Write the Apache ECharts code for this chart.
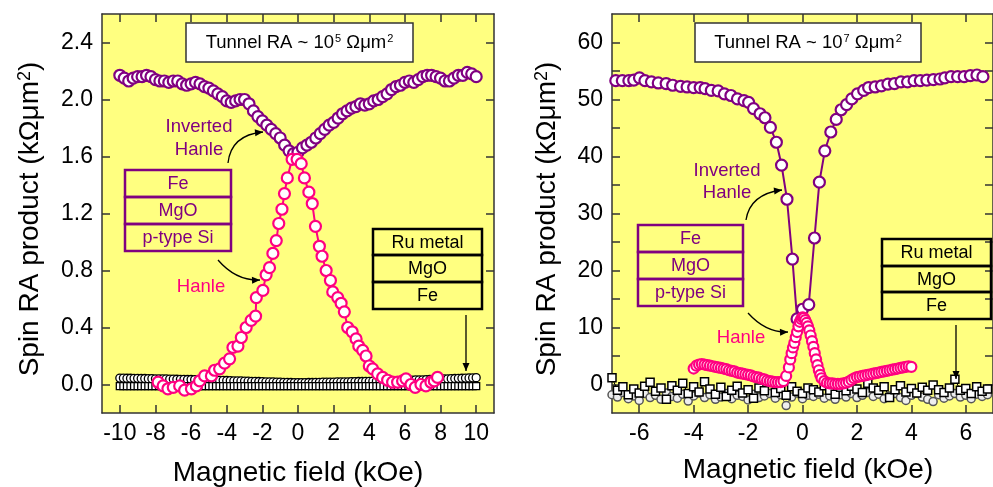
<!DOCTYPE html>
<html><head><meta charset="utf-8">
<script src="https://cdn.jsdelivr.net/npm/echarts@6/dist/echarts.min.js"></script>
<style>html,body{margin:0;padding:0;background:#fff}#c{width:993px;height:487px}</style>
</head><body><div id="c"></div>
<script>
// ---------- Data ----------
// Left panel: tunnel RA ~ 1e5
const lInvX = [-10,-9.75,-9.5,-9.25,-9,-8.75,-8.5,-8.25,-8,-7.75,-7.5,-7.25,-7,-6.75,-6.5,-6.25,-6,-5.75,-5.5,-5.25,-5,-4.75,-4.5,-4.25,-4,-3.75,-3.5,-3.25,-3,-2.75,-2.5,-2.25,-2,-1.75,-1.5,-1.25,-1,-0.75,-0.5,-0.25,0,0.25,0.5,0.75,1,1.25,1.5,1.75,2,2.25,2.5,2.75,3,3.25,3.5,3.75,4,4.25,4.5,4.75,5,5.25,5.5,5.75,6,6.25,6.5,6.75,7,7.25,7.5,7.75,8,8.25,8.5,8.75,9,9.25,9.5,9.75,10];
const lInvY = [2.17,2.15,2.13,2.15,2.16,2.16,2.17,2.16,2.14,2.13,2.13,2.12,2.13,2.13,2.11,2.10,2.11,2.12,2.11,2.09,2.08,2.06,2.04,2.02,1.99,1.98,1.99,2.00,2.00,1.97,1.92,1.88,1.85,1.82,1.79,1.76,1.73,1.68,1.64,1.62,1.63,1.66,1.68,1.70,1.73,1.76,1.79,1.82,1.84,1.87,1.90,1.92,1.94,1.95,1.97,1.96,1.97,1.99,2.00,2.02,2.04,2.07,2.09,2.10,2.12,2.13,2.12,2.14,2.16,2.17,2.17,2.16,2.15,2.13,2.13,2.15,2.17,2.17,2.19,2.18,2.16];

const lHanX = [-7.85,-7.57,-7.3,-7.0,-6.64,-6.36,-5.98,-5.7,-5.52,-5.24,-4.86,-4.68,-4.4,-4.12,-3.84,-3.65,-3.37,-3.18,-2.91,-2.63,-2.38,-2.34,-1.97,-1.79,-1.6,-1.41,-1.22,-1.08,-0.9,-0.76,-0.6,-0.33,-0.05,0.18,0.36,0.61,0.8,0.98,1.2,1.35,1.58,1.82,1.95,2.23,2.42,2.6,2.79,3.04,3.26,3.41,3.63,3.82,4.0,4.19,4.47,4.75,5.03,5.31,5.59,5.87,6.06,6.34,6.58,6.9,7.18,7.46,7.65,7.83];
const lHanY = [0.016,-0.01,-0.03,-0.02,-0.01,-0.04,-0.03,-0.01,0.025,0.06,0.06,0.10,0.11,0.15,0.18,0.26,0.27,0.33,0.40,0.45,0.48,0.61,0.66,0.77,0.82,0.92,1.01,1.13,1.23,1.34,1.45,1.58,1.58,1.55,1.45,1.35,1.27,1.11,0.97,0.90,0.80,0.73,0.65,0.61,0.57,0.51,0.40,0.37,0.32,0.27,0.24,0.20,0.13,0.11,0.075,0.05,0.03,0.016,0.016,0.025,0.04,0.0,-0.02,0.0,-0.01,0.016,0.025,0.05];

const lRefX = [-10,-9.8,-9.6,-9.4,-9.2,-9,-8.8,-8.6,-8.4,-8.2,-8,-7.8,-7.6,-7.4,-7.2,-7,-6.8,-6.6,-6.4,-6.2,-6,-5.8,-5.6,-5.4,-5.2,-5,-4.8,-4.6,-4.4,-4.2,-4,-3.8,-3.6,-3.4,-3.2,-3,-2.8,-2.6,-2.4,-2.2,-2,-1.8,-1.6,-1.4,-1.2,-1,-0.8,-0.6,-0.4,-0.2,0,0.2,0.4,0.6,0.8,1,1.2,1.4,1.6,1.8,2,2.2,2.4,2.6,2.8,3,3.2,3.4,3.6,3.8,4,4.2,4.4,4.6,4.8,5,5.2,5.4,5.6,5.8,6,6.2,6.4,6.6,6.8,7,7.2,7.4,7.6,7.8,8,8.2,8.4,8.6,8.8,9,9.2,9.4,9.6,9.8,10];
const lRefCircY = [0.045,0.045,0.044,0.044,0.043,0.043,0.042,0.042,0.041,0.041,0.040,0.040,0.039,0.039,0.038,0.038,0.037,0.036,0.036,0.035,0.035,0.034,0.033,0.033,0.032,0.031,0.031,0.030,0.029,0.029,0.028,0.027,0.026,0.026,0.025,0.024,0.023,0.022,0.022,0.021,0.020,0.019,0.018,0.018,0.017,0.016,0.015,0.015,0.014,0.013,0.013,0.013,0.013,0.014,0.014,0.015,0.015,0.016,0.016,0.017,0.017,0.018,0.018,0.019,0.019,0.020,0.020,0.021,0.021,0.022,0.022,0.023,0.023,0.024,0.025,0.025,0.026,0.027,0.027,0.028,0.029,0.030,0.031,0.032,0.032,0.033,0.034,0.035,0.036,0.037,0.038,0.039,0.040,0.041,0.042,0.043,0.044,0.045,0.046,0.047,0.048];
const lRefSqY = [-0.012,-0.012,-0.011,-0.012,-0.012,-0.011,-0.012,-0.012,-0.011,-0.012,-0.012,-0.011,-0.012,-0.012,-0.011,-0.012,-0.012,-0.011,-0.012,-0.012,-0.011,-0.012,-0.012,-0.011,-0.012,-0.012,-0.011,-0.012,-0.012,-0.011,-0.012,-0.012,-0.011,-0.012,-0.012,-0.011,-0.012,-0.012,-0.011,-0.012,-0.012,-0.011,-0.012,-0.012,-0.011,-0.012,-0.012,-0.011,-0.012,-0.012,-0.011,-0.012,-0.012,-0.011,-0.012,-0.012,-0.011,-0.012,-0.012,-0.011,-0.012,-0.012,-0.011,-0.012,-0.012,-0.011,-0.012,-0.012,-0.011,-0.012,-0.012,-0.011,-0.012,-0.012,-0.011,-0.012,-0.012,-0.011,-0.012,-0.012,-0.011,-0.012,-0.012,-0.011,-0.012,-0.012,-0.011,-0.012,-0.012,-0.011,-0.012,-0.012,-0.011,-0.012,-0.012,-0.011,-0.012,-0.012,-0.011,-0.012,-0.012];

// Right panel: tunnel RA ~ 1e7
const rInvX = [-6.86,-6.62,-6.38,-6.2,-5.99,-5.79,-5.55,-5.3,-5.01,-4.77,-4.48,-4.24,-4.0,-3.76,-3.58,-3.35,-3.1,-2.87,-2.63,-2.39,-2.15,-1.98,-1.8,-1.56,-1.38,-1.18,-0.96,-0.77,-0.57,-0.37,-0.2,0.0,0.23,0.44,0.62,0.82,1.04,1.24,1.42,1.62,1.81,2.02,2.25,2.43,2.67,2.9,3.14,3.38,3.62,3.86,4.1,4.33,4.57,4.81,5.05,5.23,5.46,5.7,5.94,6.17,6.41,6.63];
const rInvY = [53.3,53.3,53.3,53.4,53.8,53.3,53.1,52.9,52.8,52.5,52.3,52.2,52.1,52.1,51.9,51.6,51.5,51.0,50.7,50.1,49.8,49.5,48.4,47.5,46.8,45.1,42.5,38.5,32.5,22.0,11.5,13.2,14.0,25.7,35.5,41.0,44.3,46.5,48.2,49.1,50.1,51.0,51.6,52.1,52.2,52.4,52.7,52.8,53.1,53.1,53.3,53.3,53.4,53.5,53.6,53.8,54.0,54.0,54.0,54.2,54.3,54.0];

const rHanX = [-4.0,-3.9,-3.8,-3.7,-3.6,-3.5,-3.4,-3.3,-3.2,-3.1,-3.0,-2.9,-2.8,-2.7,-2.6,-2.5,-2.4,-2.3,-2.2,-2.1,-2.0,-1.9,-1.8,-1.7,-1.6,-1.5,-1.4,-1.3,-1.2,-1.1,-1.0,-0.9,-0.8,-0.7,-0.6,-0.5,-0.45,-0.4,-0.35,-0.3,-0.25,-0.2,-0.15,-0.1,-0.05,0,0.05,0.1,0.15,0.2,0.25,0.3,0.35,0.4,0.45,0.5,0.55,0.6,0.65,0.7,0.8,0.9,1.0,1.1,1.2,1.3,1.4,1.5,1.6,1.7,1.8,1.9,2.0,2.1,2.2,2.3,2.4,2.5,2.6,2.7,2.8,2.9,3.0,3.1,3.2,3.3,3.4,3.5,3.6,3.7,3.8,3.9,4.0];
const rHanY = [2.8,3.3,3.5,3.6,3.5,3.4,3.3,3.2,3.1,3.0,2.9,2.8,2.7,2.5,2.4,2.3,2.1,2.0,1.9,1.8,1.7,1.6,1.4,1.3,1.2,1.0,0.9,0.7,0.6,0.5,0.4,0.4,0.4,0.6,1.5,3.0,4.4,5.5,6.5,7.3,8.3,9.2,10.2,11.0,11.5,11.8,11.7,11.3,10.8,10.2,9.5,8.6,7.6,6.6,5.5,4.4,3.4,2.5,1.7,1.1,0.6,0.3,0.2,0.2,0.1,0.1,0.1,0.2,0.3,0.5,0.8,1.1,1.3,1.4,1.5,1.6,1.7,1.8,1.9,2.0,2.1,2.2,2.3,2.4,2.5,2.6,2.7,2.8,2.9,3.0,3.1,3.2,3.1];

const rRefX = [-7.0,-6.8,-6.6,-6.4,-6.2,-6.0,-5.8,-5.6,-5.4,-5.2,-5.0,-4.8,-4.6,-4.4,-4.2,-4.0,-3.8,-3.6,-3.4,-3.2,-3.0,-2.8,-2.6,-2.4,-2.2,-2.0,-1.8,-1.6,-1.4,-1.2,-1.0,-0.8,-0.6,-0.4,-0.2,0.0,0.2,0.4,0.6,0.8,1.0,1.2,1.4,1.6,1.8,2.0,2.2,2.4,2.6,2.8,3.0,3.2,3.4,3.6,3.8,4.0,4.2,4.4,4.6,4.8,5.0,5.2,5.4,5.6,5.8,6.0,6.2,6.4,6.6,6.8];
const rRefSqY = [1.2,-1.0,-0.4,-1.8,-0.8,-1.5,-0.3,0.4,-1.2,-0.6,-2.6,-0.2,-1.0,0.2,-1.6,-0.4,-1.3,0.5,-0.8,-1.7,-0.5,-2.1,-1.0,-0.3,-1.5,-0.9,-2.4,-0.6,-1.1,0.4,-1.4,-0.7,-1.9,-0.4,-1.2,-1.6,-0.6,-0.9,-1.3,-0.2,-1.0,-1.7,-0.5,-1.1,-0.3,-0.8,-1.4,0.2,-0.6,-1.0,-0.4,-2.3,-0.9,-0.2,-1.3,-0.7,-1.5,-0.5,-1.0,-0.1,-0.9,-1.4,-0.6,0.9,-1.0,-0.7,-1.6,-0.4,-1.2,-0.8];
const rRefCircY = [-1.8,-2.2,-1.4,-2.5,-2.0,-2.8,-1.6,-2.3,-1.9,-2.6,-1.5,-2.1,-2.4,-1.7,-2.9,-2.0,-1.5,-2.3,-1.8,-2.6,-2.2,-1.6,-2.5,-1.9,-2.1,-2.7,-1.7,-2.3,-2.0,-1.6,-2.4,-1.8,-3.7,-2.2,-1.5,-2.5,-1.9,-2.1,-1.7,-2.4,-2.0,-2.6,-1.8,-2.2,-1.6,-2.3,-1.9,-1.4,-2.1,-1.7,-2.5,-2.0,-1.6,-2.3,-2.8,-1.9,-1.5,-2.2,-2.6,-3.0,-1.8,-2.4,-2.0,-1.6,-2.2,-1.9,-2.5,-1.7,-2.1,-1.8];

// Tick labels
const lXTicks = [-10,-8,-6,-4,-2,0,2,4,6,8,10];
const lYTicks = [0,0.4,0.8,1.2,1.6,2.0,2.4];
const rXTicks = [-6,-4,-2,0,2,4,6];
const rYLabels = [0,10,20,30,40,50,60];
const rYTicks = [0,5,10,15,20,25,30,35,40,45,50,55,60];

// ---------- Styling ----------
const FONT = 'Liberation Sans, Arial, Helvetica, sans-serif';
const PURPLE = '#800080', PINK = '#FF0080', YELLOW = '#FFFF80', AX = '#333';
const zip = (xs, ys) => xs.map((x, i) => [x, ys[i]]);

function xAxes(gi, min, max, ticks) {
  const base = {
    gridIndex: gi, type: 'value', min, max, splitLine: {show: false},
    axisLine: {show: true, onZero: false, lineStyle: {color: AX, width: 1.5}},
    axisTick: {show: true, inside: true, length: 8, customValues: ticks, lineStyle: {color: AX, width: 1.5}}
  };
  return [
    Object.assign({}, base, {position: 'bottom',
      axisLabel: {customValues: ticks, fontSize: 23, fontFamily: FONT, color: '#000', margin: 9}}),
    Object.assign({}, base, {position: 'top', axisLabel: {show: false}})
  ];
}
function yAxes(gi, min, max, ticks, labels, fmt) {
  const base = {
    gridIndex: gi, type: 'value', min, max, splitLine: {show: false},
    axisLine: {show: true, onZero: false, lineStyle: {color: AX, width: 1.5}},
    axisTick: {show: true, inside: true, length: 8, customValues: ticks, lineStyle: {color: AX, width: 1.5}}
  };
  return [
    Object.assign({}, base, {position: 'left',
      axisLabel: {customValues: labels, fontSize: 23, fontFamily: FONT, color: '#000', margin: 9, formatter: fmt}}),
    Object.assign({}, base, {position: 'right', axisLabel: {show: false}})
  ];
}
function openSeries(xi, yi, data, color, size, bw, line, z) {
  return {
    type: 'line', xAxisIndex: xi, yAxisIndex: yi, data, symbol: 'circle', symbolSize: size,
    showSymbol: true, z: z || 2,
    itemStyle: {color: '#fff', borderColor: color, borderWidth: bw},
    lineStyle: line ? {color: color, width: line} : {width: 0, opacity: 0},
    emphasis: {disabled: true}
  };
}

// ---------- Annotations ----------
const g = [];
function txt(x, y, text, color, size, extra) {
  g.push(Object.assign({type: 'text', z: 100, x, y, style: Object.assign({text, fill: color, fontSize: size, fontFamily: FONT, align: 'center', verticalAlign: 'middle'}, extra || {})}));
}
function rect(x, y, w, h, stroke, lw, fill) {
  g.push({type: 'rect', z: 99, shape: {x, y, width: w, height: h}, style: {fill: fill || 'none', stroke, lineWidth: lw}});
}
function stack(x, ys, w, labels, color, lw) {
  for (let i = 0; i < labels.length; i++) {
    rect(x, ys[i], w, ys[i + 1] - ys[i], color, lw);
    txt(x + w / 2, (ys[i] + ys[i + 1]) / 2 + 1, labels[i], color, 18);
  }
}
function arrow(x1, y1, cx, cy, x2, y2) {
  g.push({type: 'bezierCurve', z: 100, shape: {x1, y1, x2, y2, cpx1: cx, cpy1: cy}, style: {stroke: '#000', lineWidth: 1.3, fill: null}});
  const dx = x2 - cx, dy = y2 - cy, L = Math.hypot(dx, dy), ux = dx / L, uy = dy / L;
  const hl = 8, hw = 3.5;
  const bx = x2 - ux * hl, by = y2 - uy * hl;
  g.push({type: 'polygon', z: 100, shape: {points: [[x2, y2], [bx - uy * hw, by + ux * hw], [bx + uy * hw, by - ux * hw]]}, style: {fill: '#000'}});
}
const titleRich = {sup: {fontSize: 11, fontFamily: FONT, fill: '#000', verticalAlign: 'top', padding: [0, 0, 0, 1]}};
// left panel
rect(186, 23, 227, 39, AX, 1.5, '#fff');
txt(299.5, 43, 'Tunnel RA ~ 10{sup|5} Ωμm{sup|2}', '#000', 18.5, {rich: titleRich});
stack(125, [170, 197, 224, 251], 106, ['Fe', 'MgO', 'p-type Si'], PURPLE, 2.5);
stack(373, [229, 255, 282, 309], 109, ['Ru metal', 'MgO', 'Fe'], '#000', 2.5);
txt(199, 127, 'Inverted', PURPLE, 18.5);
txt(199, 150, 'Hanle', PURPLE, 18.5);
txt(201, 287, 'Hanle', PINK, 18.5);
arrow(228, 163, 231, 135, 263, 132);
arrow(218, 260, 236, 281, 260, 280);
arrow(466, 315, 466, 340, 466, 371);
// right panel
rect(695, 23, 226, 39, AX, 1.5, '#fff');
txt(808, 43, 'Tunnel RA ~ 10{sup|7} Ωμm{sup|2}', '#000', 18.5, {rich: titleRich});
stack(638, [225, 252, 279, 306], 105, ['Fe', 'MgO', 'p-type Si'], PURPLE, 2.5);
stack(882, [239, 266, 292, 319], 109, ['Ru metal', 'MgO', 'Fe'], '#000', 2.5);
txt(727, 171, 'Inverted', PURPLE, 18.5);
txt(727, 193, 'Hanle', PURPLE, 18.5);
txt(741, 338, 'Hanle', PINK, 18.5);
arrow(746, 220, 750, 194, 782, 190);
arrow(748, 313, 766, 333, 788, 332);
arrow(956, 325, 956, 350, 956, 379);
// axis titles
const axRich = {sup: {fontSize: 18, fontFamily: FONT, fill: '#000', verticalAlign: 'top'}};
g.push({type: 'text', z: 100, x: 30, y: 219, rotation: Math.PI / 2, style: {text: 'Spin RA product (kΩμm{sup|2})', rich: axRich, fill: '#000', fontSize: 28, fontFamily: FONT, align: 'center', verticalAlign: 'middle'}});
g.push({type: 'text', z: 100, x: 547, y: 219, rotation: Math.PI / 2, style: {text: 'Spin RA product (kΩμm{sup|2})', rich: axRich, fill: '#000', fontSize: 28, fontFamily: FONT, align: 'center', verticalAlign: 'middle'}});
txt(298, 473, 'Magnetic field (kOe)', '#000', 28);
txt(808, 470, 'Magnetic field (kOe)', '#000', 28);

const option = {
  animation: false,
  backgroundColor: '#fff',
  grid: [
    {left: 102, top: 14, width: 392, height: 399, show: true, backgroundColor: YELLOW, borderWidth: 0},
    {left: 612, top: 14, width: 392, height: 399, show: true, backgroundColor: YELLOW, borderWidth: 0}
  ],
  xAxis: [...xAxes(0, -11, 11, lXTicks), ...xAxes(1, -7, 7, rXTicks)],
  yAxis: [...yAxes(0, -0.2, 2.6, lYTicks, lYTicks, v => v.toFixed(1)), ...yAxes(1, -5, 65, rYTicks, rYLabels, v => String(v))],
  series: [
    // left panel
    openSeries(0, 0, zip(lRefX, lRefCircY), '#000', 8, 1.3, 0, 2),
    Object.assign(openSeries(0, 0, zip(lRefX, lRefSqY), '#000', 7, 1.3, 0, 2), {symbol: 'rect'}),
    openSeries(0, 0, zip(lInvX, lInvY), PURPLE, 11, 2.2, 1.5, 3),
    openSeries(0, 0, zip(lHanX, lHanY), PINK, 11, 2.2, 2, 4),
    // right panel
    Object.assign(openSeries(2, 2, zip(rRefX, rRefCircY), '#555', 8, 1.5, 1, 2), {itemStyle: {color: '#eee', borderColor: '#555', borderWidth: 1.5}}),
    Object.assign(openSeries(2, 2, zip(rRefX, rRefSqY), '#000', 8, 1.5, 1, 2), {symbol: 'rect'}),
    openSeries(2, 2, zip(rInvX, rInvY), PURPLE, 11, 2.2, 2, 3),
    openSeries(2, 2, zip(rHanX, rHanY), PINK, 10, 2.2, 2, 4)
  ],
  graphic: g
};
const chart = echarts.init(document.getElementById('c'), null, {renderer: 'canvas'});
chart.setOption(option);
</script></body></html>
